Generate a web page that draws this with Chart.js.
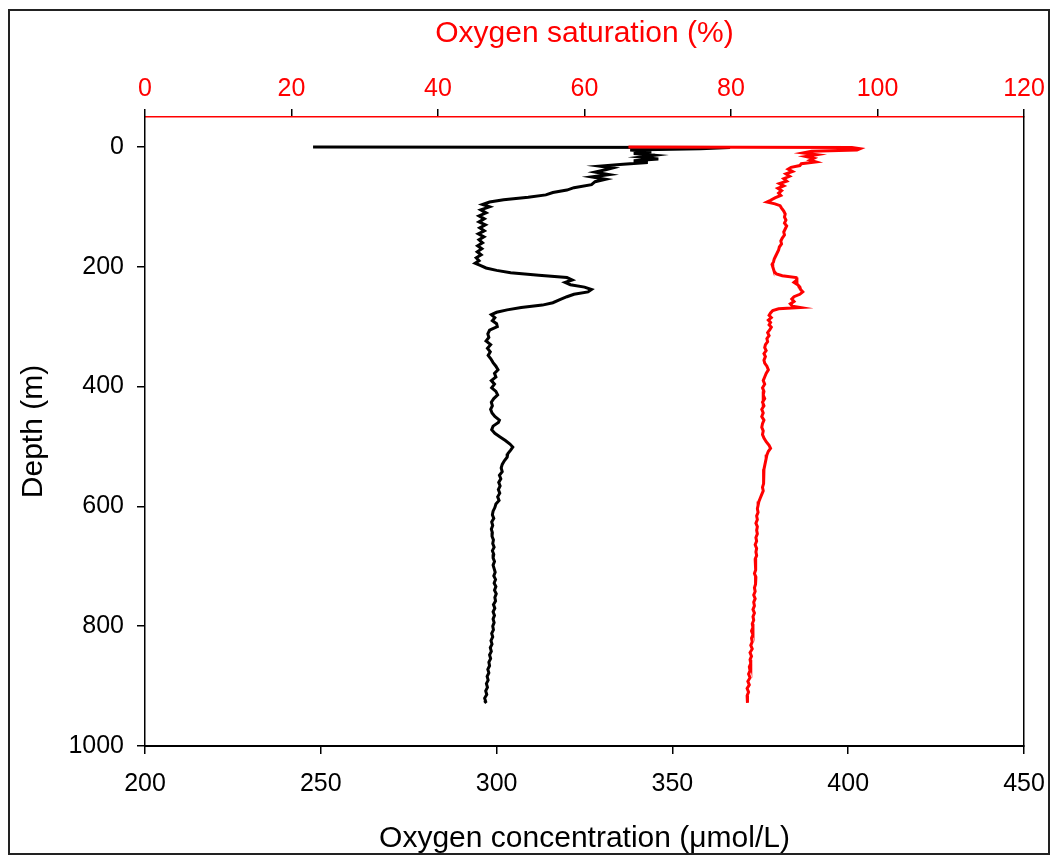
<!DOCTYPE html>
<html>
<head>
<meta charset="utf-8">
<script src="https://cdn.jsdelivr.net/npm/chart.js@4.4.1/dist/chart.umd.min.js"></script>
<style>
html,body{margin:0;padding:0;background:#fff;}
canvas{display:block;}
</style>
</head>
<body>
<canvas id="c" width="1051" height="856"></canvas>
<script>
// ---- Data ----
const concTicks = [200, 250, 300, 350, 400, 450];
const satTicks = [0, 20, 40, 60, 80, 100, 120];
const depthTicks = [0, 200, 400, 600, 800, 1000];

// Oxygen concentration (µmol/L) profile
const concDepth = [0,1,3,5,8,11,14,17,20,23,26,29,32,35,38,42,46,50,54,58,63,68,72,76,80,84,88,92,96,100,
105,110,115,120,125,130,135,140,145,150,155,160,165,170,175,180,185,190,194,198,202,206,210,214,218,222,226,230,234,238,
242,246,250,255,260,264,268,272,276,280,285,290,295,300,306,312,318,324,330,336,342,348,354,360,366,372,378,384,390,396,
402,408,414,420,426,432,438,444,450,456,460,466,472,478,484,490,496,501,506,512,518,524,530,536,542,548,554,560,566,572,
578,584,590,596,602,608,614,620,626,632,638,644,650,656,662,668,674,680,686,692,698,704,710,716,722,728,734,740,746,752,
758,764,770,776,782,788,794,800,806,812,818,824,830,836,842,848,854,860,866,872,878,884,890,896,902,908,914,920,926,928];
const concValue = [247.8,366.4,358,338,344,339,345,341,346,339,343,336,329.4,333,331,328,332,327,331,328,327,322,320,316,314,309,302,298,296,298,
295.5,297,295,296.5,295,296.8,295.2,296.5,294.8,296.4,295,296,294.6,295.8,294.5,295.6,294.2,295,293.9,295.5,297,300,304,312,320,321.5,319.5,321,325,327,
326,322,320,318,316,313,307,303,300,298.5,299.5,298.8,300,300.2,298,297.5,297.8,297,298.3,297.4,298.2,297.6,298.4,299,299.8,300.4,299.4,299.8,298.5,299.4,
298.6,299.8,300.3,299.2,298.5,298.8,298.3,298.7,299.5,300.8,300.5,299,298.6,299.5,301,302.5,303.8,304.6,304,303.2,303,302.2,301.6,301.3,301.6,300.8,301.2,300.6,301,300.5,
300.9,300.3,300.7,299.8,299.5,299,298.8,299.2,298.6,298.9,298.5,298.8,298.7,299.1,298.9,299.3,298.8,299.2,299,299.4,299,299.3,299.6,299.2,299.7,299.3,299.8,299.4,299.9,299.5,
299.7,299.1,299.5,299,299.4,299,299.3,298.9,299.1,298.6,298.9,298.4,298.7,298.2,298.5,298,298.3,297.8,298,297.5,297.8,297.3,297.6,297.1,297.4,296.9,297.2,296.6,296.9,296.5];

// Oxygen saturation (%) profile
const satDepth = [0,1,3,5,7,10,13,16,19,22,25,28,31,34,37,41,45,49,53,57,61,65,69,73,77,81,85,89,92,95,
98,102,107,112,117,122,127,132,137,142,147,152,157,162,167,172,177,182,187,192,196,200,204,208,212,215,218,222,226,230,
234,238,242,246,250,254,258,262,266,268,270,273,277,281,285,289,293,297,301,305,310,315,320,325,330,335,340,345,350,356,
361,366,372,378,384,390,396,402,408,414,420,426,432,438,444,450,456,462,468,474,480,486,492,498,503,508,514,520,526,532,
538,544,550,556,562,568,574,580,586,592,598,604,610,616,622,628,634,640,646,652,658,664,670,676,682,688,694,700,706,712,
718,724,730,736,742,748,754,760,766,772,778,784,790,796,802,808,814,820,826,832,838,844,850,856,862,868,874,880,886,892,
898,904,910,916,922,928];
const satValue = [66.0,96.5,97.6,97.2,91,89.8,91.7,90.2,91.3,90.8,91.6,89.6,89.4,88.2,87.8,88.4,87.5,88,87.2,87.6,86.6,87.2,86.4,86.9,86.5,86.8,86,85.4,84.9,86,
86.7,86.9,87.2,87.4,87.3,87.5,87.3,87.6,87.4,87.2,87.3,87,86.8,86.9,86.6,86.5,86.3,86.1,85.9,85.8,85.6,85.7,85.8,85.9,86.2,87,88.9,89,88.6,89.1,
89.4,89.5,89.8,89.4,88.6,88.3,88.6,88.1,88.4,89.4,86.5,85.7,85.4,85.2,85.5,85.1,85.4,85.2,85.5,85.3,85,85.2,84.9,85,84.7,84.6,84.8,84.5,84.7,84.5,
84.6,84.9,85.1,84.8,84.6,84.4,84.6,84.3,84.5,84.4,84.6,84.3,84.5,84.2,84.4,84.2,84.5,84.3,84.2,84.4,84.3,84.5,84.8,85.2,85.4,85.1,84.9,84.8,84.7,84.6,
84.5,84.4,84.5,84.4,84.5,84.3,84.4,84.2,84,83.8,83.7,83.6,83.7,83.5,83.6,83.4,83.6,83.5,83.6,83.4,83.5,83.3,83.5,83.4,83.5,83.3,83.4,83.3,83.4,83.2,
83.4,83.3,83.4,83.2,83.3,83.1,83.3,83.1,83.2,83,83.2,83,83.1,82.9,83,82.8,83,82.8,82.9,82.7,82.9,82.6,82.8,82.6,82.7,82.5,82.6,82.4,82.6,82.3,
82.5,82.2,82.4,82.2,82.3,82.2];

const FONT = "'Liberation Sans', Arial, Helvetica, sans-serif";

const concPoints = concDepth.map((d, i) => ({x: concValue[i], y: d}));
const satPoints = satDepth.map((d, i) => ({x: satValue[i], y: d}));

const framePlugin = {
  id: 'frame',
  beforeDraw(chart) {
    const ctx = chart.ctx;
    ctx.save();
    ctx.fillStyle = '#fff';
    ctx.fillRect(0, 0, chart.width, chart.height);
    ctx.restore();
  },
  afterDraw(chart) {
    const ctx = chart.ctx;
    ctx.save();
    ctx.strokeStyle = '#222';
    ctx.lineWidth = 2;
    ctx.strokeRect(9, 10, 1040, 844);
    ctx.restore();
  }
};

function fixedTicks(list) {
  return function(scale) {
    scale.ticks = list.map(v => ({value: v}));
  };
}
const plain = v => String(v);

new Chart(document.getElementById('c'), {
  type: 'scatter',
  data: {
    datasets: [
      {
        label: 'Oxygen saturation (%)',
        data: satPoints,
        xAxisID: 'x2', yAxisID: 'y',
        showLine: true, pointRadius: 0,
        borderColor: '#ff0000', borderWidth: 3,
        order: 0
      },
      {
        label: 'Oxygen concentration (µmol/L)',
        data: concPoints,
        xAxisID: 'x', yAxisID: 'y',
        showLine: true, pointRadius: 0,
        borderColor: '#000000', borderWidth: 3,
        order: 1
      }
    ]
  },
  options: {
    responsive: false,
    animation: false,
    devicePixelRatio: 1,
    layout: {padding: 0},
    plugins: {legend: {display: false}, tooltip: {enabled: false}},
    scales: {
      x: {
        type: 'linear', position: 'bottom', min: 200, max: 450,
        afterBuildTicks: fixedTicks(concTicks),
        afterFit(s) { s.height = 110; s.paddingLeft = 0; s.paddingRight = 0; },
        ticks: {color: '#000', font: {family: FONT, size: 25}, padding: 15, maxRotation: 0, autoSkip: false, callback: plain},
        grid: {drawOnChartArea: false, tickLength: 8, color: '#000', tickColor: '#000', lineWidth: 1.5},
        border: {color: '#000', width: 2},
        title: {display: true, text: 'Oxygen concentration (μmol/L)', color: '#000', font: {family: FONT, size: 30, lineHeight: 1.1}, padding: {top: 0, bottom: 0.5}}
      },
      x2: {
        type: 'linear', position: 'top', min: 0, max: 120,
        afterBuildTicks: fixedTicks(satTicks),
        afterFit(s) { s.height = 117; s.paddingLeft = 0; s.paddingRight = 0; },
        ticks: {color: '#ff0000', font: {family: FONT, size: 25}, padding: 5, maxRotation: 0, autoSkip: false, callback: plain},
        grid: {drawOnChartArea: false, tickLength: 8, color: '#000', tickColor: '#000', lineWidth: 1.5},
        border: {color: '#ff0000', width: 1.5},
        title: {display: true, text: 'Oxygen saturation (%)', color: '#ff0000', font: {family: FONT, size: 30}, padding: {top: 16, bottom: 0}}
      },
      y: {
        type: 'linear', position: 'left', min: -50, max: 1000, reverse: true,
        afterBuildTicks: fixedTicks(depthTicks),
        afterFit(s) { s.width = 145; s.paddingTop = 0; s.paddingBottom = 0; },
        ticks: {color: '#000', font: {family: FONT, size: 25}, padding: 13, autoSkip: false, callback: plain},
        grid: {drawOnChartArea: false, tickLength: 8, color: '#000', tickColor: '#000', lineWidth: 1.5},
        border: {color: '#000', width: 1.5},
        title: {display: true, text: 'Depth (m)', color: '#000', font: {family: FONT, size: 30}, padding: {top: 16, bottom: 0}}
      },
      y2: {
        type: 'linear', position: 'right', min: -50, max: 1000, reverse: true,
        afterFit(s) { s.width = 27; s.paddingTop = 0; s.paddingBottom = 0; },
        ticks: {display: false},
        grid: {display: false, drawOnChartArea: false, drawTicks: false},
        border: {color: '#000', width: 1.5}
      }
    }
  },
  plugins: [framePlugin]
});
</script>
</body>
</html>
